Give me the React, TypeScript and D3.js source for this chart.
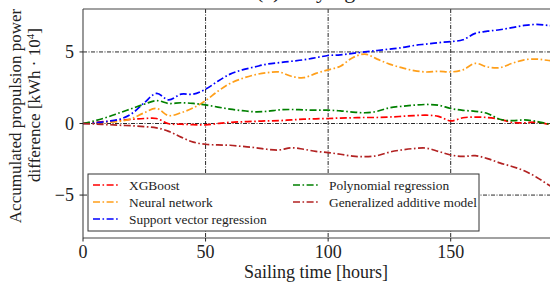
import React from 'react';
import * as d3 from 'd3';

// sailing time in hours, one sample every 5 h
const hours = d3.range(0, 200, 5);

const xgboost = [0, 0.08, 0.15, 0.22, 0.3, 0.35, 0.35, -0.02, -0.05, -0.08, -0.1, 0.0, 0.08, 0.12, 0.15, 0.18, 0.2, 0.25, 0.3, 0.33, 0.35, 0.38, 0.4, 0.42, 0.42, 0.45, 0.5, 0.55, 0.58, 0.5, 0.18, 0.4, 0.45, 0.42, 0.3, 0.08, 0.05, 0.1, -0.05, -0.1];
const neuralNet = [0, 0.03, 0.08, 0.15, 0.35, 0.75, 1.05, 0.55, 0.75, 1.1, 1.6, 2.25, 2.8, 3.15, 3.4, 3.55, 3.6, 3.3, 3.2, 3.5, 3.75, 4.0, 4.6, 4.85, 4.5, 4.15, 3.9, 3.7, 3.6, 3.65, 3.6, 3.75, 4.2, 3.95, 3.9, 4.2, 4.45, 4.5, 4.4, 4.35];
const svr = [0, 0.05, 0.15, 0.3, 0.7, 1.45, 2.1, 1.65, 2.05, 2.05, 2.4, 2.95, 3.45, 3.75, 3.95, 4.15, 4.25, 4.35, 4.45, 4.6, 4.75, 4.8, 4.9, 5.0, 5.1, 5.2, 5.3, 5.45, 5.55, 5.65, 5.72, 5.85, 6.3, 6.45, 6.55, 6.7, 6.85, 6.92, 6.85, 6.8];
const polyReg = [0, 0.2, 0.45, 0.75, 1.05, 1.35, 1.6, 1.4, 1.45, 1.4, 1.3, 1.15, 1.0, 0.9, 0.82, 0.85, 0.95, 0.98, 0.95, 0.93, 0.93, 0.88, 0.8, 0.75, 0.85, 1.1, 1.2, 1.28, 1.33, 1.28, 1.05, 0.92, 0.85, 0.7, 0.3, 0.2, 0.25, 0.15, -0.03, -0.1];
const gam = [0, -0.04, -0.08, -0.12, -0.16, -0.22, -0.3, -0.55, -0.95, -1.3, -1.45, -1.5, -1.52, -1.6, -1.68, -1.8, -1.85, -1.7, -1.8, -1.95, -2.03, -2.15, -2.28, -2.32, -2.25, -2.0, -1.85, -1.75, -1.72, -1.95, -2.2, -2.3, -2.25, -2.45, -2.75, -3.0, -3.3, -3.75, -4.3, -4.8];

const seriesNames = ['XGBoost', 'Neural network', 'Support vector regression', 'Polynomial regression', 'Generalized additive model'];
const seriesColors = ['#ff0000', '#ff9f1a', '#0000ff', '#008000', '#b22222'];
const seriesValues = [xgboost, neuralNet, svr, polyReg, gam];

const xTicks = [0, 50, 100, 150];
const yTicks = [-5, 0, 5];

const W = 550;
const H = 287;
const left = 83;
const top = 9;
const right = 561;
const bottom = 238;
const font = 'Liberation Serif';
const dash = '7,2.5,1.6,2.5';

export default function App() {
  const x = d3.scaleLinear().domain([0, 195]).range([left, right]);
  const y = d3.scaleLinear().domain([-8, 8]).range([bottom, top]);
  const line = d3
    .line<number>()
    .x((_, i) => x(hours[i]))
    .y((d) => y(d))
    .curve(d3.curveCatmullRom);

  const legendCols = [
    { x: 93, items: [0, 1, 2] },
    { x: 293, items: [3, 4] },
  ];
  const rowY = [185, 202, 219];

  return (
    <svg width={W} height={H} style={{ position: 'absolute', left: 0, top: 0 }}>
      <defs>
        <clipPath id="plot">
          <rect x={left} y={top} width={right - left} height={bottom - top} />
        </clipPath>
      </defs>
      <rect width={W} height={H} fill="#fff" />

      {/* title, mostly cut off as in the source figure */}
      <text x={256} y={-2} fontSize={22} fill="#222" fontFamily={font}>(c) Varying weather</text>

      {/* grid */}
      <g stroke="#111" strokeWidth={0.9} strokeDasharray="4,1.5,1,1.5">
        {xTicks.filter((t) => t > 0).map((t) => (
          <line key={'gx' + t} x1={x(t)} x2={x(t)} y1={top} y2={bottom} />
        ))}
        {yTicks.map((t) => (
          <line key={'gy' + t} x1={left} x2={right} y1={y(t)} y2={y(t)} />
        ))}
      </g>

      {/* series */}
      <g clipPath="url(#plot)" fill="none" strokeWidth={1.7} strokeDasharray={dash}>
        {seriesValues.map((vals, i) => (
          <path key={seriesNames[i]} d={line(vals) || ''} stroke={seriesColors[i]} />
        ))}
      </g>

      {/* spines */}
      <g stroke="#444" strokeWidth={1.1} fill="none">
        <line x1={left} x2={left} y1={top} y2={bottom} />
        <line x1={left} x2={right} y1={bottom} y2={bottom} />
        <line x1={left} x2={right} y1={top} y2={top} />
      </g>

      {/* ticks */}
      <g fill="#222" fontSize={18} fontFamily={font}>
        {xTicks.map((t) => (
          <g key={'tx' + t}>
            <line x1={x(t)} x2={x(t)} y1={bottom} y2={bottom + 3.5} stroke="#222" />
            <text x={x(t)} y={258} textAnchor="middle">{t}</text>
          </g>
        ))}
        {yTicks.map((t) => (
          <g key={'ty' + t}>
            <line x1={left - 3.5} x2={left} y1={y(t)} y2={y(t)} stroke="#222" />
            <text x={74} y={y(t) + 6} textAnchor="end">{t < 0 ? '\u2212' + Math.abs(t) : t}</text>
          </g>
        ))}
      </g>

      {/* axis labels */}
      <text x={316} y={278} textAnchor="middle" fontSize={18} fill="#222" fontFamily={font}>Sailing time [hours]</text>
      <g fill="#222" fontSize={17} fontFamily={font}>
        <text transform={`translate(21,116) rotate(-90)`} textAnchor="middle">Accumulated propulsion power</text>
        <text transform={`translate(40,105) rotate(-90)`} textAnchor="middle">
          difference [kWh · 10<tspan dy={-6} fontSize={11}>4</tspan><tspan dy={6}>]</tspan>
        </text>
      </g>

      {/* legend */}
      <rect x={88} y={174} width={391} height={57} fill="#fff" stroke="#333" strokeWidth={1} />
      <g fontFamily={font}>
        {legendCols.map((col) =>
          col.items.map((idx, r) => (
            <g key={seriesNames[idx]}>
              <line
                x1={col.x}
                x2={col.x + 25}
                y1={rowY[r]}
                y2={rowY[r]}
                stroke={seriesColors[idx]}
                strokeWidth={1.7}
                strokeDasharray={dash}
              />
              <text x={col.x + 36} y={rowY[r] + 4.5} fontSize={13.4} fill="#222">{seriesNames[idx]}</text>
            </g>
          ))
        )}
      </g>
    </svg>
  );
}
